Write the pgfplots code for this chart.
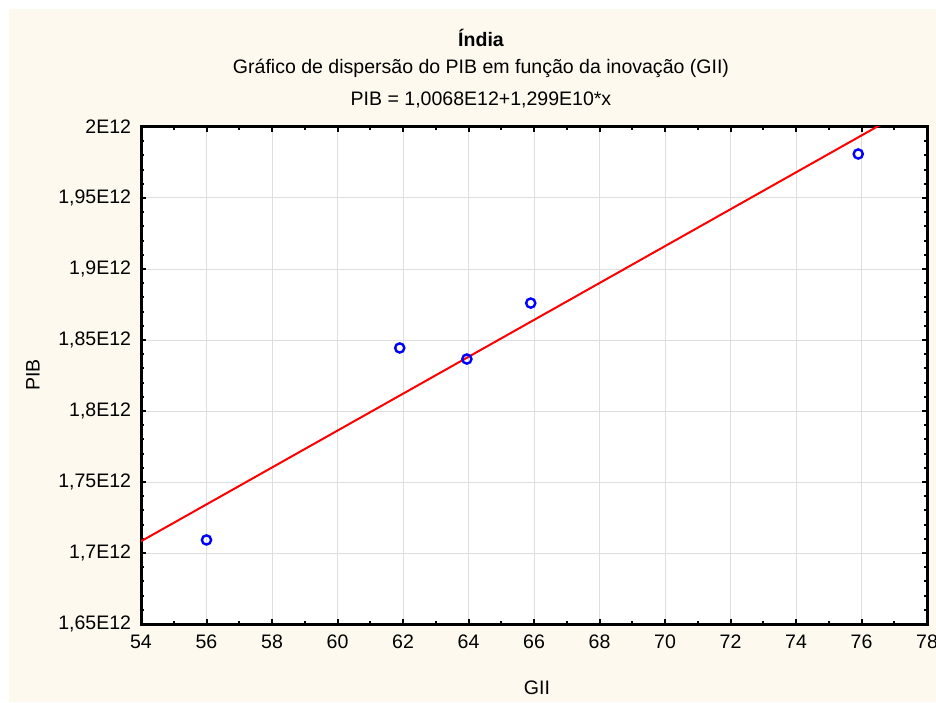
\documentclass[border=0pt]{standalone}
\usepackage{fontspec}
\setmainfont{Liberation Sans}
\usepackage{pgfplots}
\pgfplotsset{compat=1.18}

\definecolor{cream}{RGB}{253,249,238}
\definecolor{gridgray}{RGB}{222,222,222}

% PIB in units of 1E12
\pgfplotstableread{
gii   pib
56.0  1.7092
61.9  1.8444
63.95 1.8366
65.9  1.8760
75.9  1.9810
}\india

\begin{document}
\fontsize{9.8}{11.5}\selectfont
\begin{tikzpicture}[x=1bp,y=1bp]
  \path[use as bounding box] (-70.5,-39) rectangle (397.5,312);
  \fill[cream] (-66,-39) rectangle (397.5,307.5);
  \begin{axis}[
      at={(0,0)}, anchor=south west,
      scale only axis,
      width=393bp, height=248.5bp,
      xmin=54, xmax=78, ymin=1.65, ymax=2.0,
      xtick={54,56,...,78},
      ytick={1.65,1.70,1.75,1.80,1.85,1.90,1.95,2.00},
      yticklabels={1{,}65E12,1{,}7E12,1{,}75E12,1{,}8E12,1{,}85E12,1{,}9E12,1{,}95E12,2E12},
      minor x tick num=1, minor y tick num=4,
      tick align=inside,
      major tick length=2.5bp, minor tick length=1.5bp,
      every tick/.style={black, line width=1bp},
      axis line style={black, line width=1.5bp},
      axis background/.style={fill=white},
      xmajorgrids, ymajorgrids,
      major grid style={gridgray, line width=0.5bp},
      /pgf/number format/assume math mode=true,
      tick label style={font=\fontsize{9.8}{11.5}\selectfont},
      xticklabel style={yshift=-2bp},
      yticklabel style={xshift=-1.5bp},
      clip=true,
    ]
    \addplot[red, line width=1bp] coordinates {(54,1.70826) (78,2.02002)};
    \addplot[only marks, mark=o, mark size=2.3bp, blue, mark options={line width=1.2bp}]
      table[x=gii, y=pib] {\india};
  \end{axis}
  \node[font=\bfseries] at (170,293) {Índia};
  \node at (170,278) {Gráfico de dispersão do PIB em função da inovação (GII)};
  \node at (170,262) {PIB = 1,0068E12+1,299E10*x};
  \node[rotate=90] at (-54,124.5) {PIB};
  \node at (198,-32) {GII};
\end{tikzpicture}
\end{document}
